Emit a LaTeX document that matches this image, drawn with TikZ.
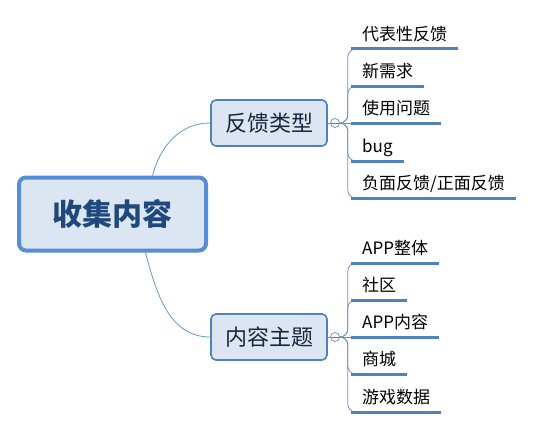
\documentclass[tikz,border=0pt]{standalone}
\usepackage{fontspec}
\setmainfont{Noto Sans CJK SC}
\usetikzlibrary{positioning}
\usepackage{xcolor}
\definecolor{boxblue}{RGB}{79,129,189}
\definecolor{rootblue}{RGB}{85,142,213}
\definecolor{boxfill}{RGB}{220,230,242}
\definecolor{roottext}{RGB}{31,73,125}
\definecolor{topictext}{RGB}{23,37,64}
\def\leafx{351}

\begin{document}
\begin{tikzpicture}[x=1pt,y=-1pt]
    \tikzstyle{root}=[rectangle, rounded corners=7pt, draw=rootblue, line width=4pt, fill=boxfill, minimum width=187pt, minimum height=73pt, font=\fontsize{30}{34}\selectfont\bfseries, text=roottext]
    \tikzstyle{topic}=[rectangle, rounded corners=5pt, draw=boxblue, line width=1.6pt, fill=boxfill, minimum width=116pt, minimum height=46pt, font=\fontsize{22}{26}\selectfont, text=topictext]
    \tikzstyle{knob}=[circle, draw=boxblue, fill=white, line width=0.6pt, minimum size=9pt, inner sep=0pt, path picture={\draw[boxblue, line width=0.6pt] (path picture bounding box.west) -- (path picture bounding box.east);}]
    \tikzstyle{leaf}=[anchor=south west, inner xsep=11pt, inner ysep=5pt, text depth=3pt, font=\fontsize{17}{20}\selectfont]
    \tikzstyle{uline}=[draw=boxblue, line width=3pt]
    \tikzstyle{branch}=[draw=boxblue!85, line width=0.8pt]
    \tikzstyle{spine}=[draw=boxblue!85, line width=0.8pt, rounded corners=8pt]

    \useasboundingbox (0,0) rectangle (535,428);

    % Draw the root and the two topics
    \node[root] (R) at (112.5,214) {收集内容};
    \node[topic] (T-1) at (269,123) {反馈类型};
    \node[topic] (T-2) at (269,337) {内容主题};
    \node[knob] (C-1) at (335,123) {};
    \node[knob] (C-2) at (335,337) {};

    % Draw the leaves of the first topic
    \node[leaf] (L-1) at (\leafx,49) {代表性反馈};
    \node[leaf] (L-2) at (\leafx,86) {新需求};
    \node[leaf] (L-3) at (\leafx,123) {使用问题};
    \node[leaf] (L-4) at (\leafx,161) {bug};
    \node[leaf] (L-5) at (\leafx,198) {负面反馈/正面反馈};

    % Draw the leaves of the second topic
    \node[leaf] (M-1) at (\leafx,263) {APP整体};
    \node[leaf] (M-2) at (\leafx,300) {社区};
    \node[leaf] (M-3) at (\leafx,337) {APP内容};
    \node[leaf] (M-4) at (\leafx,374) {商城};
    \node[leaf] (M-5) at (\leafx,412) {游戏数据};

    \coordinate (R-up) at ([xshift=40pt]R.north);
    \coordinate (R-down) at ([xshift=33pt]R.south);

    % Connect root, topics and knobs
    \draw[branch] (R-up) to[out=75,in=180] (T-1.west);
    \draw[branch] (R-down) to[out=-75,in=180] (T-2.west);
    \draw[branch] (T-1.east) -- (C-1.west);
    \draw[branch] (T-2.east) -- (C-2.west);

    % Spines to the leaves
    \draw[spine] (C-1.east) -- ++(8,0) |- (L-1.south east);
    \draw[spine] (C-1.east) -- ++(8,0) |- (L-2.south east);
    \draw[spine] (C-1.east) -- (L-3.south east);
    \draw[spine] (C-1.east) -- ++(8,0) |- (L-4.south east);
    \draw[spine] (C-1.east) -- ++(8,0) |- (L-5.south east);

    \draw[spine] (C-2.east) -- ++(8,0) |- (M-1.south east);
    \draw[spine] (C-2.east) -- ++(8,0) |- (M-2.south east);
    \draw[spine] (C-2.east) -- (M-3.south east);
    \draw[spine] (C-2.east) -- ++(8,0) |- (M-4.south east);
    \draw[spine] (C-2.east) -- ++(8,0) |- (M-5.south east);

    \foreach \n in {L-1,L-2,L-3,L-4,L-5,M-1,M-2,M-3,M-4,M-5}
        \draw[uline] (\n.south west) -- (\n.south east);
\end{tikzpicture}
\end{document}
